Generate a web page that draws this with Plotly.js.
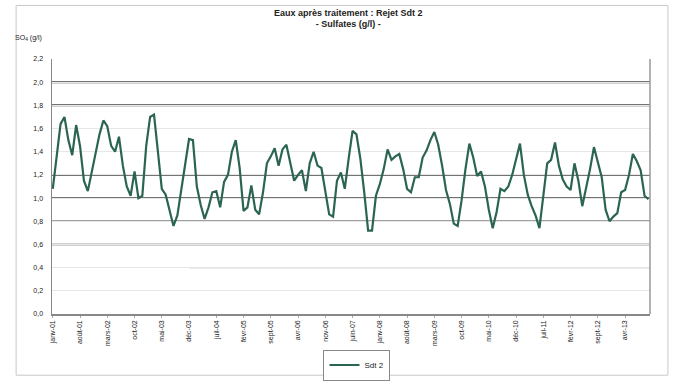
<!DOCTYPE html>
<html><head><meta charset="utf-8">
<script src="https://cdn.plot.ly/plotly-3.0.1.min.js"></script>
<style>html,body{margin:0;padding:0;background:#fff;}#chart{width:683px;height:392px;}</style>
</head><body><div id="chart"></div>
<script>
// Monthly sulphate concentration (g/l), janv-01 .. oct-13
const sulfates = [
1.08,1.35,1.64,1.70,1.50,1.37,1.63,1.45,1.15,1.06,
1.22,1.38,1.55,1.67,1.62,1.45,1.40,1.53,1.28,1.10,
1.02,1.23,1.00,1.02,1.45,1.70,1.72,1.40,1.08,1.03,
0.90,0.76,0.85,1.07,1.30,1.51,1.50,1.10,0.94,0.82,
0.92,1.05,1.06,0.92,1.14,1.20,1.40,1.50,1.26,0.89,
0.92,1.11,0.90,0.86,1.05,1.30,1.36,1.43,1.28,1.42,
1.46,1.31,1.15,1.20,1.24,1.06,1.30,1.40,1.28,1.26,
1.05,0.86,0.84,1.15,1.22,1.08,1.34,1.58,1.55,1.34,
1.05,0.72,0.72,1.02,1.12,1.25,1.42,1.33,1.36,1.38,
1.25,1.08,1.05,1.18,1.18,1.35,1.41,1.50,1.57,1.46,
1.28,1.07,0.95,0.78,0.76,0.98,1.25,1.47,1.35,1.19,
1.23,1.10,0.90,0.74,0.88,1.08,1.06,1.10,1.20,1.33,
1.47,1.20,1.03,0.93,0.85,0.74,1.02,1.30,1.33,1.48,
1.28,1.16,1.10,1.07,1.30,1.15,0.93,1.08,1.25,1.44,
1.32,1.18,0.90,0.80,0.84,0.87,1.05,1.07,1.20,1.38,
1.32,1.24,1.02,0.99
];
const monthNames = ["janv","févr","mars","avr","mai","juin","juil","août","sept","oct","nov","déc"];
const startYear = 2001;
const labelStep = 7;
const yTicks = [0,0.2,0.4,0.6,0.8,1.0,1.2,1.4,1.6,1.8,2.0,2.2];
const refLines = [2.0,1.8,1.2,1.0,0.8,0.6];
const lightLines = [0.4];
const seriesName = "Sdt 2";
const titleLines = ["Eaux après traitement : Rejet Sdt 2","- Sulfates (g/l) -"];

const months = sulfates.map((v,i)=>{
  const y = startYear + Math.floor(i/12);
  return monthNames[i%12] + "-" + String(y%100).padStart(2,"0");
});
const tickvals = months.filter((m,i)=>i%labelStep===0);

const shapes = [];
refLines.forEach(v=>shapes.push({type:"line",xref:"paper",x0:0,x1:1,yref:"y",y0:v,y1:v,line:{color:"#444",width:(v>=1.8?2:1.6)},layer:"below"}));
lightLines.forEach(v=>shapes.push({type:"line",xref:"paper",x0:0.23,x1:1,yref:"y",y0:v,y1:v,line:{color:"#b0b0b0",width:1.2},layer:"below"}));
shapes.push({type:"rect",xref:"paper",yref:"paper",x0:-0.06,x1:1.03,y0:-0.24,y1:1.21,line:{color:"#c8c8c8",width:1},layer:"below"});
shapes.push({type:"line",xref:"paper",yref:"paper",x0:1,x1:1,y0:0,y1:1.0,line:{color:"#999",width:1.5}});

Plotly.newPlot("chart",[{
  x: months, y: sulfates, type:"scatter", mode:"lines", name: seriesName,
  line:{color:"#2b6552", width:2.2, shape:"linear"}
}],{
  width:683, height:392,
  margin:{l:52,r:33,t:59,b:65},
  paper_bgcolor:"#fff", plot_bgcolor:"#fff",
  separators:",.",
  font:{family:"Liberation Sans, Arial, sans-serif", size:7, color:"#222"},
  title:{text:"<b>"+titleLines[0]+"</b><br><b>"+titleLines[1]+"</b>", x:0.51, xanchor:"center", y:0.96, yanchor:"top", font:{size:9, color:"#222"}},
  xaxis:{type:"category", tickvals:tickvals, ticktext:tickvals, tickangle:-90, showgrid:false,
    showline:true, linecolor:"#888", linewidth:1.5, ticks:"outside", ticklen:2, tickcolor:"#aaa",
    tickfont:{size:7,color:"#222"}, range:[-0.2, sulfates.length-0.6], mirror:false},
  yaxis:{range:[0,2.2], tickvals:yTicks, tickformat:".1f", showgrid:true, gridcolor:"#e6e6e6",
    showline:true, linecolor:"#888", linewidth:1.5, zeroline:false, tickfont:{size:7,color:"#222"}, ticklabelstandoff:6},
  shapes: shapes,
  annotations:[{text:"SO<sub>4</sub> (g/l)", xref:"paper", yref:"paper", x:-0.065, y:1.06, xanchor:"left", yanchor:"bottom", showarrow:false, font:{size:7,color:"#222"}}],
  showlegend:true,
  legend:{orientation:"h", x:0.51, xanchor:"center", y:-0.2, yanchor:"middle", bordercolor:"#888", borderwidth:1, font:{size:8}, bgcolor:"#fff", itemwidth:30}
},{displayModeBar:false, staticPlot:true});
</script></body></html>
